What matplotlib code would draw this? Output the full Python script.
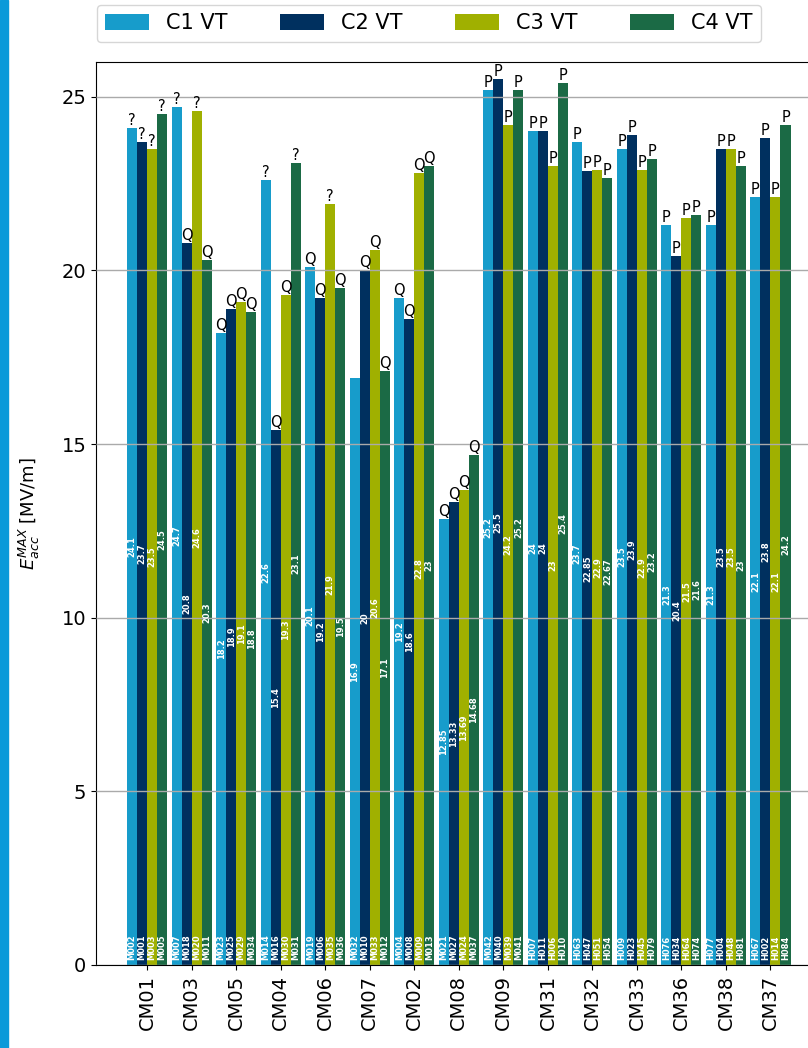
"""Peak accelerating gradient per cryomodule, four cavity VT results per module.

Grouped bars with cavity serial numbers at the base, value labels in the middle
and the qualification flag on top of each bar.
"""
import matplotlib

matplotlib.use("Agg")
import matplotlib.pyplot as plt
from matplotlib.patches import Rectangle
import numpy as np

modules = ["CM01", "CM03", "CM05", "CM04", "CM06", "CM07", "CM02", "CM08",
           "CM09", "CM31", "CM32", "CM33", "CM36", "CM38", "CM37"]
series = ["C1 VT", "C2 VT", "C3 VT", "C4 VT"]
colors = ["#179ccb", "#00305f", "#a0b000", "#1b6a45"]

# gradient [MV/m], one list per cavity slot
c1_vals = [24.1, 24.7, 18.2, 22.6, 20.1, 16.9, 19.2, 12.85, 25.2, 24, 23.7, 23.5, 21.3, 21.3, 22.1]
c2_vals = [23.7, 20.8, 18.9, 15.4, 19.2, 20, 18.6, 13.33, 25.5, 24, 22.85, 23.9, 20.4, 23.5, 23.8]
c3_vals = [23.5, 24.6, 19.1, 19.3, 21.9, 20.6, 22.8, 13.69, 24.2, 23, 22.9, 22.9, 21.5, 23.5, 22.1]
c4_vals = [24.5, 20.3, 18.8, 23.1, 19.5, 17.1, 23, 14.68, 25.2, 25.4, 22.67, 23.2, 21.6, 23, 24.2]

# cavity serials
c1_ids = ["M002", "M007", "M023", "M014", "M019", "M032", "M004", "M021", "M042", "H007", "H063", "H009", "H076", "H077", "H067"]
c2_ids = ["M001", "M018", "M025", "M016", "M006", "M010", "M008", "M027", "M040", "H011", "H047", "H023", "H034", "H004", "H002"]
c3_ids = ["M003", "M020", "M029", "M030", "M035", "M033", "M009", "M024", "M039", "H006", "H051", "H045", "H064", "H048", "H014"]
c4_ids = ["M005", "M011", "M034", "M031", "M036", "M012", "M013", "M037", "M041", "H010", "H054", "H079", "H074", "H081", "H084"]

# qualification flags ("" = none)
c1_flags = ["?", "?", "Q", "?", "Q", "", "Q", "Q", "P", "P", "P", "P", "P", "P", "P"]
c2_flags = ["?", "Q", "Q", "Q", "Q", "Q", "Q", "Q", "P", "P", "P", "P", "P", "P", "P"]
c3_flags = ["?", "?", "Q", "Q", "?", "Q", "Q", "Q", "P", "P", "P", "P", "P", "P", "P"]
c4_flags = ["?", "Q", "Q", "?", "Q", "Q", "Q", "Q", "P", "P", "P", "P", "P", "P", "P"]

values = [c1_vals, c2_vals, c3_vals, c4_vals]
ids = [c1_ids, c2_ids, c3_ids, c4_ids]
flags = [c1_flags, c2_flags, c3_flags, c4_flags]


def fmt(v):
    return f"{v:g}"


fig = plt.figure(figsize=(8.08, 10.48), dpi=100, facecolor="white")
ax = fig.add_axes([96 / 808, 83 / 1048, 719 / 808, 903 / 1048])

x = np.arange(len(modules))
w = 0.225
for i, (name, col) in enumerate(zip(series, colors)):
    xs = x + (i - 1.5) * w
    bars = ax.bar(xs, values[i], width=w, color=col, label=name, zorder=1)
    for b, v, sid, fl in zip(bars, values[i], ids[i], flags[i]):
        cx = b.get_x() + b.get_width() / 2
        ax.text(cx, v / 2, fmt(v), rotation=90, ha="center", va="center",
                fontsize=6, fontweight="bold", color="white", zorder=3)
        ax.text(cx, 0.15, sid, rotation=90, ha="center", va="bottom",
                fontsize=6, fontweight="bold", color="white", zorder=3)
        if fl:
            ax.text(cx, v, fl, ha="center", va="bottom", fontsize=10.5,
                    color="black", zorder=3)

ax.set_xlim(-1.15, 15.0)
ax.set_ylim(0, 26)
ax.set_yticks([0, 5, 10, 15, 20, 25])
ax.set_xticks(x)
ax.set_xticklabels(modules, rotation=90, fontsize=14)
ax.tick_params(axis="y", labelsize=14)
ax.yaxis.grid(True, color="#aaaaaa", linewidth=1.0, zorder=2)
ax.set_axisbelow(False)
ax.set_ylabel(r"$E_{acc}^{MAX}$ [MV/m]", fontsize=13, labelpad=14)

fig.legend(loc="upper left", bbox_to_anchor=(97 / 808, 1 - 5 / 1048), ncol=4,
           borderaxespad=0, fontsize=15, handlelength=2.1, handleheight=0.75,
           handletextpad=0.8, columnspacing=2.55, frameon=True)

# accent strip on the left page edge
fig.patches.append(Rectangle((0, 0), 8 / 808, 1, transform=fig.transFigure,
                             color="#0a9ad9", zorder=0))

fig.savefig("out.png", dpi=100)
